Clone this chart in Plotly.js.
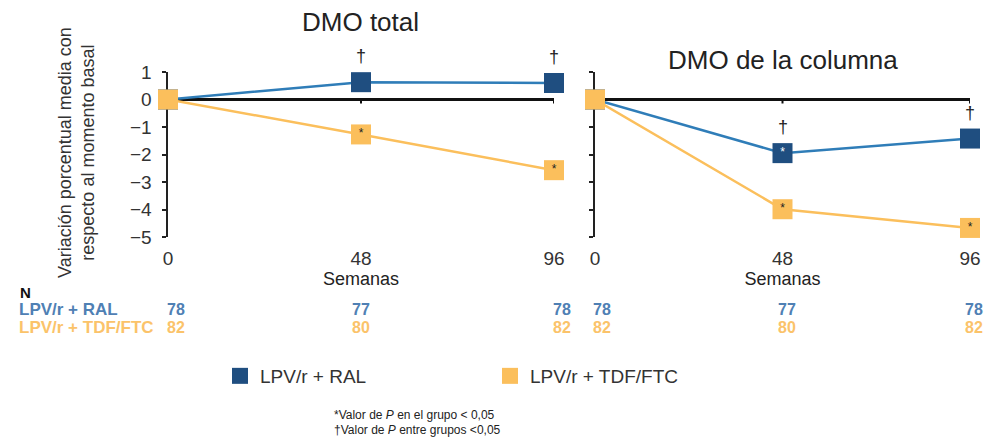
<!DOCTYPE html>
<html><head><meta charset="utf-8">
<script src="https://cdn.plot.ly/plotly-3.0.1.min.js"></script>
<style>html,body{margin:0;padding:0;background:#fff}#chart{width:984px;height:443px}</style>
</head><body><div id="chart"></div>
<script>
// ---- data ----
const weeks = [0, 48, 96];
const totalRAL = [0, 0.63, 0.6];
const totalTDF = [0, -1.27, -2.57];
const spineRAL = [0, -1.95, -1.42];
const spineTDF = [0, -3.99, -4.67];
const totalRALMark = ['', '', ''];
const totalTDFMark = ['', '*', '*'];
const spineRALMark = ['', '*', ''];
const spineTDFMark = ['', '*', '*'];
const totalDagger = ['', '†', '†'];
const spineDagger = ['', '†', '†'];
const nRALTotal = [78, 77, 78];
const nTDFTotal = [82, 80, 82];
const nRALSpine = [78, 77, 78];
const nTDFSpine = [82, 80, 82];
const yTicks = [1, 0, -1, -2, -3, -4, -5];
const panelTitles = ['DMO total', 'DMO de la columna'];
const seriesNames = ['LPV/r + RAL', 'LPV/r + TDF/FTC'];

// ---- style ----
const W = 984, H = 443;
const px = v => v / W, py = v => 1 - v / H;
const BLUE_M = '#1f4e80', BLUE_L = '#2f7db8', BLUE_T = '#4f80b4';
const ORANGE = '#fbbf5c', ORANGE_T = '#fbc36a';
const FONT = 'Liberation Sans, Arial, sans-serif';

function series(x, y, xa, ya, color, lineColor, marks, markColor) {
  return {x: x, y: y, xaxis: xa, yaxis: ya, type: 'scatter', mode: 'lines+markers+text',
    line: {color: lineColor, width: 2.5}, marker: {symbol: 'square', size: 20, color: color},
    text: marks, textposition: 'middle center',
    textfont: {size: 12, color: markColor, family: FONT},
    cliponaxis: false, showlegend: false, hoverinfo: 'skip'};
}
const traces = [
  series(weeks, totalRAL, 'x', 'y', BLUE_M, BLUE_L, totalRALMark, '#fff'),
  series(weeks, totalTDF, 'x', 'y', ORANGE, ORANGE, totalTDFMark, '#222'),
  series(weeks, spineRAL, 'x2', 'y2', BLUE_M, BLUE_L, spineRALMark, '#fff'),
  series(weeks, spineTDF, 'x2', 'y2', ORANGE, ORANGE, spineTDFMark, '#222'),
  {x: [null], y: [null], type: 'scatter', mode: 'markers', name: seriesNames[0],
   marker: {symbol: 'square', size: 18, color: BLUE_M}, showlegend: true},
  {x: [null], y: [null], type: 'scatter', mode: 'markers', name: seriesNames[1],
   marker: {symbol: 'square', size: 18, color: ORANGE}, showlegend: true}
];

const xAxisBase = {range: [0, 96], tickvals: weeks, ticktext: weeks.map(String), showline: false,
  showgrid: false, zeroline: false, ticks: '', ticklabelstandoff: 8,
  tickfont: {size: 19, color: '#333', family: FONT},
  title: {text: 'Semanas', font: {size: 18, color: '#222', family: FONT}, standoff: 4}};
const yAxisBase = {range: [-5, 1], tickvals: yTicks, showline: true, linecolor: '#222', linewidth: 2.5,
  ticks: 'outside', ticklen: 4, tickwidth: 2, tickcolor: '#222', showgrid: false,
  zeroline: true, zerolinecolor: '#111', zerolinewidth: 2.5, layer: 'below traces',
  tickfont: {size: 19, color: '#333', family: FONT}, ticklabelstandoff: 6};

const annotations = [];
const shapes = [];
function ann(o) { annotations.push(Object.assign({showarrow: false, xanchor: 'center', yanchor: 'middle'}, o)); }
// panel titles
ann({text: panelTitles[0], xref: 'paper', yref: 'paper', x: px(360), y: py(22),
  font: {size: 26, color: '#222', family: FONT}});
ann({text: panelTitles[1], xref: 'paper', yref: 'paper', x: px(783), y: py(60),
  font: {size: 26, color: '#222', family: FONT}});
// y title
ann({text: 'Variación porcentual media con<br>respecto al momento basal', xref: 'paper', yref: 'paper',
  x: px(76), y: py(153), textangle: -90, font: {size: 18, color: '#333', family: FONT}});
// daggers
[[totalDagger, totalRAL, 'x', 'y'], [spineDagger, spineRAL, 'x2', 'y2']].forEach(([d, vals, xr, yr]) => {
  d.forEach((t, i) => { if (t) ann({text: t, xref: xr, yref: yr, x: weeks[i], y: vals[i],
    yshift: 26, font: {size: 18, color: '#222', family: FONT}}); });
});
// zero-line ticks
[['x', 'y'], ['x2', 'y2']].forEach(([xr, yr]) => {
  weeks.slice(1).forEach(w => shapes.push({type: 'line', xref: xr, yref: yr, x0: w, x1: w,
    ysizemode: 'pixel', yanchor: 0, y0: 0, y1: -4, line: {color: '#111', width: 2}}));
});
// N table
ann({text: '<b>N</b>', xref: 'paper', yref: 'paper', x: px(18), y: py(292), xanchor: 'left',
  font: {size: 15, color: '#111', family: FONT}});
ann({text: '<b>' + seriesNames[0] + '</b>', xref: 'paper', yref: 'paper', x: px(17), y: py(309),
  xanchor: 'left', font: {size: 17, color: BLUE_T, family: FONT}});
ann({text: '<b>' + seriesNames[1] + '</b>', xref: 'paper', yref: 'paper', x: px(17), y: py(327),
  xanchor: 'left', font: {size: 17, color: ORANGE_T, family: FONT}});
[[nRALTotal, nTDFTotal, 'x', [8, 0, 8]], [nRALSpine, nTDFSpine, 'x2', [7, 4, 4]]].forEach(([a, b, xr, sh]) => {
  weeks.forEach((w, i) => {
    ann({text: '<b>' + a[i] + '</b>', xref: xr, yref: 'paper', x: w, xshift: sh[i], y: py(309),
      font: {size: 16, color: BLUE_T, family: FONT}});
    ann({text: '<b>' + b[i] + '</b>', xref: xr, yref: 'paper', x: w, xshift: sh[i], y: py(327),
      font: {size: 16, color: ORANGE_T, family: FONT}});
  });
});
// footnotes
ann({text: '*Valor de <i>P</i> en el grupo < 0,05', xref: 'paper', yref: 'paper', x: px(332), y: py(415),
  xanchor: 'left', font: {size: 12, color: '#222', family: FONT}});
ann({text: '†Valor de <i>P</i> entre grupos <0,05', xref: 'paper', yref: 'paper', x: px(332), y: py(430),
  xanchor: 'left', font: {size: 12, color: '#222', family: FONT}});

const layout = {
  width: W, height: H, margin: {l: 0, r: 0, t: 0, b: 0},
  paper_bgcolor: '#fff', plot_bgcolor: 'rgba(0,0,0,0)',
  font: {family: FONT},
  xaxis: Object.assign({}, xAxisBase, {domain: [px(168), px(554)], anchor: 'y'}),
  xaxis2: Object.assign({}, xAxisBase, {domain: [px(595), px(970)], anchor: 'y2'}),
  yaxis: Object.assign({}, yAxisBase, {domain: [py(237), py(72)], anchor: 'x'}),
  yaxis2: Object.assign({}, yAxisBase, {domain: [py(237), py(72)], anchor: 'x2', showticklabels: false}),
  showlegend: true,
  legend: {orientation: 'h', x: px(220), y: py(376), xanchor: 'left', yanchor: 'middle',
    entrywidth: 225, entrywidthmode: 'pixels', font: {size: 19, color: '#333', family: FONT},
    bgcolor: 'rgba(0,0,0,0)'},
  annotations: annotations, shapes: shapes
};
Plotly.newPlot('chart', traces, layout, {displayModeBar: false, staticPlot: true});
</script></body></html>
